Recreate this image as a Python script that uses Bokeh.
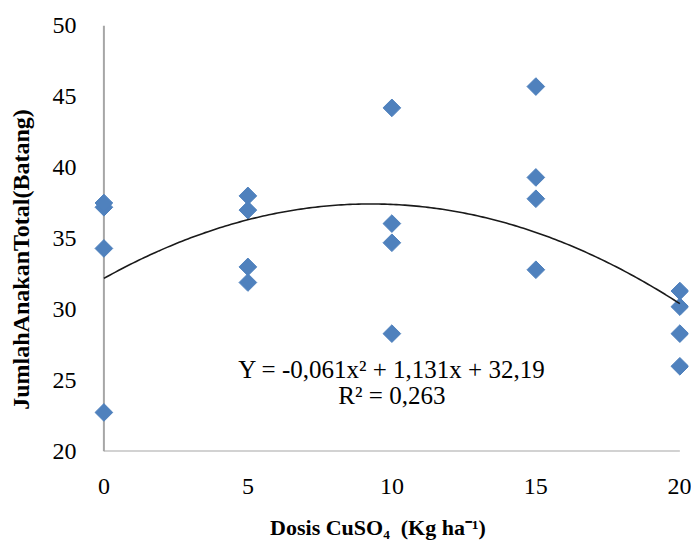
import numpy as np
from bokeh.plotting import figure
from bokeh.models import Label, FixedTicker, Range1d
from bokeh.embed import file_html
from bokeh.resources import INLINE

# ---- data ----
dose_ticks = [0, 5, 10, 15, 20]
y_ticks = [20, 25, 30, 35, 40, 45, 50]
x_vals = [0, 0, 0, 0,
          5, 5, 5, 5,
          10, 10, 10, 10,
          15, 15, 15, 15,
          20, 20, 20, 20]
y_vals = [37.2, 37.5, 34.3, 22.75,
          38.0, 37.0, 33.0, 31.9,
          44.2, 36.05, 34.7, 28.3,
          45.7, 39.3, 37.8, 32.8,
          31.3, 30.2, 28.3, 26.0]
trend_coef = [-0.061, 1.131, 32.19]
eq_text = "Y = -0,061x² + 1,131x + 32,19"
r2_text = "R² = 0,263"
x_title = "Dosis CuSO₄\u00a0\u00a0(Kg ha⁻¹)" + "\u00a0" * 4
y_title = "JumlahAnakanTotal(Batang)" + "\u00a0" * 7

SERIF = "Liberation Serif"
BLUE = "#4F81BD"
AXIS_GRAY = "#A6A6A6"

p = figure(width=691, height=543,
           x_range=Range1d(-0.5, 20.3), y_range=Range1d(20, 50),
           output_backend="svg", toolbar_location=None,
           min_border_left=89, min_border_right=3,
           min_border_top=25, min_border_bottom=92)

p.xgrid.visible = False
p.ygrid.visible = False
p.outline_line_color = None
p.background_fill_color = "white"
p.border_fill_color = "white"

for ax in (p.xaxis[0], p.yaxis[0]):
    ax.axis_line_color = None
    ax.major_tick_line_color = None
    ax.minor_tick_line_color = None
    ax.major_label_text_font = SERIF
    ax.major_label_text_font_size = "24px"
    ax.major_label_text_color = "black"

p.xaxis[0].ticker = FixedTicker(ticks=dose_ticks)
p.yaxis[0].ticker = FixedTicker(ticks=y_ticks)
p.xaxis[0].major_label_standoff = 21
p.yaxis[0].major_label_standoff = 7

p.xaxis[0].axis_label = x_title
p.xaxis[0].axis_label_text_font = SERIF
p.xaxis[0].axis_label_text_font_style = "bold"
p.xaxis[0].axis_label_text_font_size = "22px"
p.xaxis[0].axis_label_text_color = "black"
p.xaxis[0].axis_label_standoff = 18

p.yaxis[0].axis_label = y_title
p.yaxis[0].axis_label_text_font = SERIF
p.yaxis[0].axis_label_text_font_style = "bold"
p.yaxis[0].axis_label_text_font_size = "24px"
p.yaxis[0].axis_label_text_color = "black"
p.yaxis[0].axis_label_standoff = 16

# axis lines (drawn inside the frame so that edge markers are not clipped)
p.segment(x0=[dose_ticks[0]], y0=[y_ticks[0]], x1=[dose_ticks[-1]], y1=[y_ticks[0]],
          line_color=AXIS_GRAY, line_width=2)
p.segment(x0=[dose_ticks[0]], y0=[y_ticks[0]], x1=[dose_ticks[0]], y1=[y_ticks[-1]],
          line_color=AXIS_GRAY, line_width=2)

# data points (diamonds)
p.scatter(x_vals, y_vals, marker="square", size=12.5, angle=np.pi / 4,
          fill_color=BLUE, line_color=BLUE)

# polynomial trend line from the stated equation
xs = np.linspace(dose_ticks[0], dose_ticks[-1], 200)
ys = np.polyval(trend_coef, xs)
p.line(xs, ys, line_color="#1a1a1a", line_width=1.6)

# equation labels
p.add_layout(Label(x=10, y=25.75, text=eq_text, text_align="center",
                   text_baseline="middle", text_font=SERIF,
                   text_font_size="25px", text_color="black"))
p.add_layout(Label(x=10, y=23.95, text=r2_text, text_align="center",
                   text_baseline="middle", text_font=SERIF,
                   text_font_size="25px", text_color="black"))

open("out.html", "w").write(file_html(p, INLINE))
